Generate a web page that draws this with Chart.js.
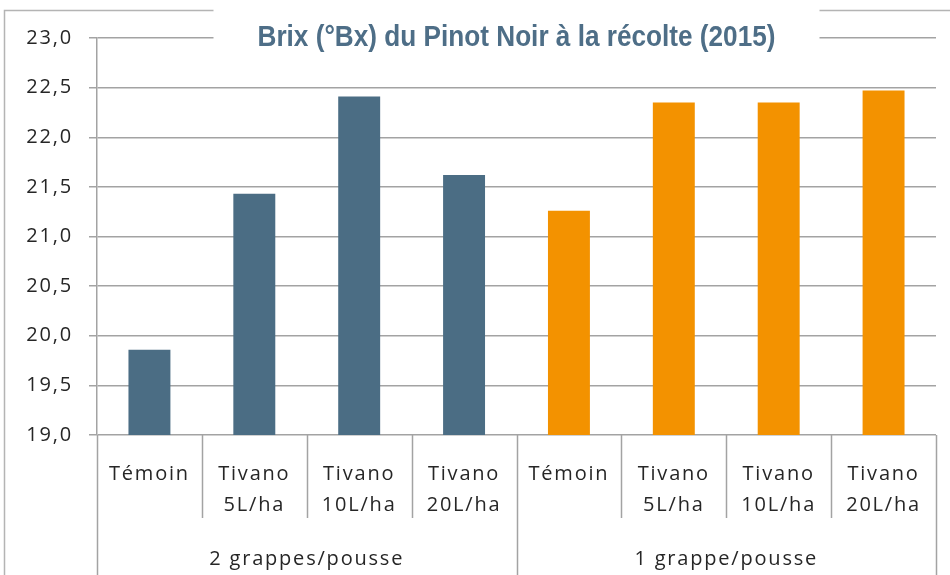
<!DOCTYPE html>
<html>
<head>
<meta charset="utf-8">
<script src="https://cdn.jsdelivr.net/npm/chart.js@4.4.1/dist/chart.umd.min.js"></script>
<style>
  html, body { margin: 0; padding: 0; background: #ffffff; }
  #wrap { width: 950px; height: 575px; position: relative; }
</style>
</head>
<body>
<div id="wrap"><canvas id="c" width="950" height="575"></canvas></div>
<script>
const titleText = "Brix (°Bx) du Pinot Noir à la récolte (2015)";
const categories = [
  ["Témoin"], ["Tivano", "5L/ha"], ["Tivano", "10L/ha"], ["Tivano", "20L/ha"],
  ["Témoin"], ["Tivano", "5L/ha"], ["Tivano", "10L/ha"], ["Tivano", "20L/ha"]
];
const groups = ["2 grappes/pousse", "1 grappe/pousse"];
const groupSize = [4, 4];
const brixValues = [19.86, 21.43, 22.41, 21.62, 21.26, 22.35, 22.35, 22.47];
const barColors = ["#4B6D84", "#4B6D84", "#4B6D84", "#4B6D84", "#F39200", "#F39200", "#F39200", "#F39200"];
const yTicks = [19.0, 19.5, 20.0, 20.5, 21.0, 21.5, 22.0, 22.5, 23.0];

const GRID = "#a3a3a3";
const TEXT = "#262626";
const FONT = "'Open Sans', 'Noto Sans', sans-serif";
const SPACING = "1.8px";

const decorPlugin = {
  id: "decor",
  beforeDraw(chart) {
    const ctx = chart.ctx;
    ctx.letterSpacing = SPACING;
    ctx.save();
    ctx.strokeStyle = "#b4b4b4";
    ctx.lineWidth = 1.5;
    ctx.beginPath();
    ctx.moveTo(4.5, 580);
    ctx.lineTo(4.5, 10.5);
    ctx.lineTo(950, 10.5);
    ctx.stroke();
    ctx.restore();
  },
  afterDraw(chart) {
    const ctx = chart.ctx;
    const xs = chart.scales.x;
    const ca = chart.chartArea;
    ctx.save();
    ctx.strokeStyle = GRID;
    ctx.lineWidth = 1.5;
    const n = categories.length;
    const bounds = [];
    for (let i = 0; i <= n; i++) {
      let px;
      if (i === 0) px = xs.left;
      else if (i === n) px = xs.right;
      else px = (xs.getPixelForValue(i - 1) + xs.getPixelForValue(i)) / 2;
      bounds.push(px);
    }
    const groupEdges = new Set([0]);
    let acc = 0;
    groupSize.forEach(g => { acc += g; groupEdges.add(acc); });
    bounds.forEach((px, i) => {
      const isGroup = groupEdges.has(i);
      ctx.beginPath();
      ctx.moveTo(Math.round(px) + 0.5, ca.bottom);
      ctx.lineTo(Math.round(px) + 0.5, isGroup ? 580 : ca.bottom + 83);
      ctx.stroke();
    });
    ctx.fillStyle = TEXT;
    ctx.font = "20px " + FONT;
    ctx.letterSpacing = SPACING;
    ctx.textAlign = "center";
    ctx.textBaseline = "middle";
    let start = 0;
    groups.forEach((g, gi) => {
      const a = bounds[start], b = bounds[start + groupSize[gi]];
      ctx.fillText(g, (a + b) / 2, ca.bottom + 124);
      start += groupSize[gi];
    });
    const cx = (ca.left + ca.right) / 2;
    ctx.fillStyle = "#ffffff";
    ctx.fillRect(cx - 303, 2, 606, 48);
    ctx.fillStyle = "#4E6E87";
    ctx.letterSpacing = "0px";
    ctx.font = "bold 30px 'Liberation Sans Narrow', 'Liberation Sans', Arial, sans-serif";
    const w = ctx.measureText(titleText).width;
    const target = 518;
    ctx.translate(cx, 38);
    ctx.scale(target / w, 1);
    ctx.textAlign = "center";
    ctx.fillText(titleText, 0, 0);
    ctx.restore();
  }
};

new Chart(document.getElementById("c"), {
  type: "bar",
  data: {
    labels: categories,
    datasets: [{
      data: brixValues,
      backgroundColor: barColors,
      borderWidth: 0,
      barPercentage: 0.4,
      categoryPercentage: 1.0
    }]
  },
  options: {
    responsive: false,
    animation: false,
    devicePixelRatio: 1,
    layout: { padding: { left: 0, right: 14, top: 38, bottom: 0 } },
    plugins: { legend: { display: false }, title: { display: false }, tooltip: { enabled: false } },
    scales: {
      x: {
        type: "category",
        offset: true,
        grid: { display: false, drawTicks: false },
        border: { display: false },
        ticks: {
          color: TEXT,
          font: { family: FONT, size: 20, lineHeight: 1.55 },
          maxRotation: 0,
          autoSkip: false,
          padding: 24
        },
        afterFit(scale) { scale.height = 140; }
      },
      y: {
        min: 19,
        max: 23,
        afterBuildTicks(scale) { scale.ticks = yTicks.map(v => ({ value: v })); },
        grid: { color: GRID, lineWidth: 1.5, tickLength: 8 },
        border: { color: GRID, width: 1.5 },
        ticks: {
          color: TEXT,
          font: { family: FONT, size: 20 },
          padding: 16,
          callback: v => Number(v).toFixed(1).replace(".", ",")
        },
        afterFit(scale) { scale.width = 97; }
      }
    }
  },
  plugins: [decorPlugin]
});
</script>
</body>
</html>
